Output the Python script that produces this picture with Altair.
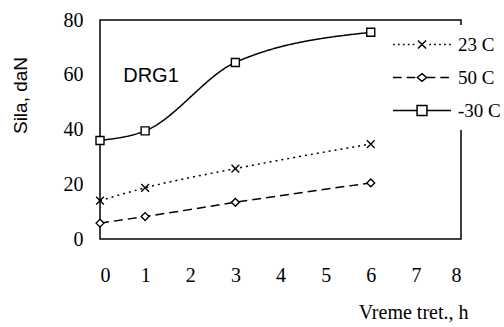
import altair as alt
import pandas as pd

hours = [0, 1, 3, 6]
series_names = ["23 C", "50 C", "-30 C"]
s23 = [14.0, 18.7, 25.7, 34.7]
s50 = [5.8, 8.2, 13.4, 20.5]
s30 = [36.0, 39.5, 64.5, 75.5]
x_ticks = [0, 1, 2, 3, 4, 5, 6, 7, 8]
y_ticks = [0, 20, 40, 60, 80]
note_text = ["DRG1"]
note_x = [1.13]
note_y = [59.5]

rows = []
for name, vals in zip(series_names, [s23, s50, s30]):
    for h, v in zip(hours, vals):
        rows.append({"h": h, "v": v, "s": name})
df = pd.DataFrame(rows)
note_df = pd.DataFrame({"t": note_text, "x": note_x, "y": note_y})

# legend symbol paths (line + marker), unit coords scaled by sqrt(size)/2
def dotted(a, b, seg=0.06, step=0.17):
    parts = []
    x = a
    while x + seg <= b + 1e-9:
        parts.append(f"M{x:.3f},0H{x+seg:.3f}")
        x += step
    return "".join(parts)

def dashed(a, b, seg=0.3, step=0.47):
    parts = []
    x = a
    while x < b - 1e-9:
        parts.append(f"M{x:.3f},0H{min(x+seg, b):.3f}")
        x += step
    return "".join(parts)

p_cross = dotted(-1, -0.22) + dotted(0.25, 1) + "M-0.14,-0.14L0.14,0.14M-0.14,0.14L0.14,-0.14"
p_diamond = dashed(-1, -0.16) + dashed(0.16, 1) + "M-0.16,0L0,-0.13L0.16,0L0,0.13Z"
p_square = "M-1,0H-0.17M0.17,0H1M-0.17,-0.17H0.17V0.17H-0.17Z"
x_marker = "M-1,-1L1,1M-1,1L1,-1"

dash_range = [[2, 4], [9, 5], [1, 0]]

xs = alt.Scale(domain=[0, 8], nice=False, zero=False)
ys = alt.Scale(domain=[0, 80], nice=False)

X = alt.X("h:Q", scale=xs, axis=alt.Axis(
    values=x_ticks, title="Vreme tret., h", grid=False, ticks=False, domain=False,
    labelFont="Liberation Serif", labelFontSize=20, labelColor="black", labelPadding=26,
    titleFont="Liberation Serif", titleFontSize=20, titleFontWeight="normal", titleColor="black",
    titleAnchor="end", titleAlign="right", titleBaseline="middle", titleX=368, titleY=73))
Y = alt.Y("v:Q", scale=ys, axis=alt.Axis(
    values=y_ticks, title="Sila, daN", grid=False, ticks=False, domain=False,
    labelFont="Liberation Serif", labelFontSize=20, labelColor="black", labelPadding=17,
    titleFont="Liberation Sans", titleFontSize=19, titleFontWeight="normal", titleColor="black",
    titleAngle=-90, titleBaseline="middle", titleAlign="center", titleX=-80, titleY=75))

lines = alt.Chart(df).mark_line(color="black", strokeWidth=1.5, interpolate="monotone").encode(
    x=X, y=Y,
    strokeDash=alt.StrokeDash("s:N", scale=alt.Scale(domain=series_names, range=dash_range), legend=None),
)

points = alt.Chart(df).mark_point(filled=False, stroke="black", fill="white", strokeWidth=1.4, opacity=1).encode(
    x=X, y=Y,
    shape=alt.Shape("s:N", scale=alt.Scale(domain=series_names, range=[x_marker, "diamond", "square"]), legend=None),
    size=alt.Size("s:N", scale=alt.Scale(domain=series_names, range=[60, 64, 110]), legend=None),
)

# legend-only layer: its marks sit outside the x domain and are clipped away
legend_layer = alt.Chart(df).transform_calculate(hx="datum.h + 100").mark_point(
    filled=False, stroke="black", fill="white", strokeWidth=1.3, opacity=1, size=3364, clip=True).encode(
    x=alt.X("hx:Q", scale=xs), y=Y,
    shape=alt.Shape("s:N", scale=alt.Scale(domain=series_names, range=[p_cross, p_diamond, p_square]),
                    legend=alt.Legend(title=None, orient="none", legendX=288, legendY=5,
                                      fillColor="white", padding=4, rowPadding=2, clipHeight=31,
                                      symbolSize=3364,
                                      labelFont="Liberation Serif", labelFontSize=19,
                                      labelColor="black", labelOffset=6)),
)

note = alt.Chart(note_df).mark_text(font="Liberation Sans", fontSize=20, color="black").encode(
    x=alt.X("x:Q", scale=xs), y=alt.Y("y:Q", scale=ys), text="t:N")

chart = alt.layer(lines, points, note, legend_layer).resolve_scale(
    shape="independent", size="independent"
).properties(
    width=361, height=219, autosize=alt.AutoSizeParams(type="none"),
    padding={"left": 100, "top": 20, "right": 43, "bottom": 88},
    background="white",
).configure_view(stroke="black", strokeWidth=1.5)

chart.save("out.html", embed_options={"renderer": "svg", "actions": False})
